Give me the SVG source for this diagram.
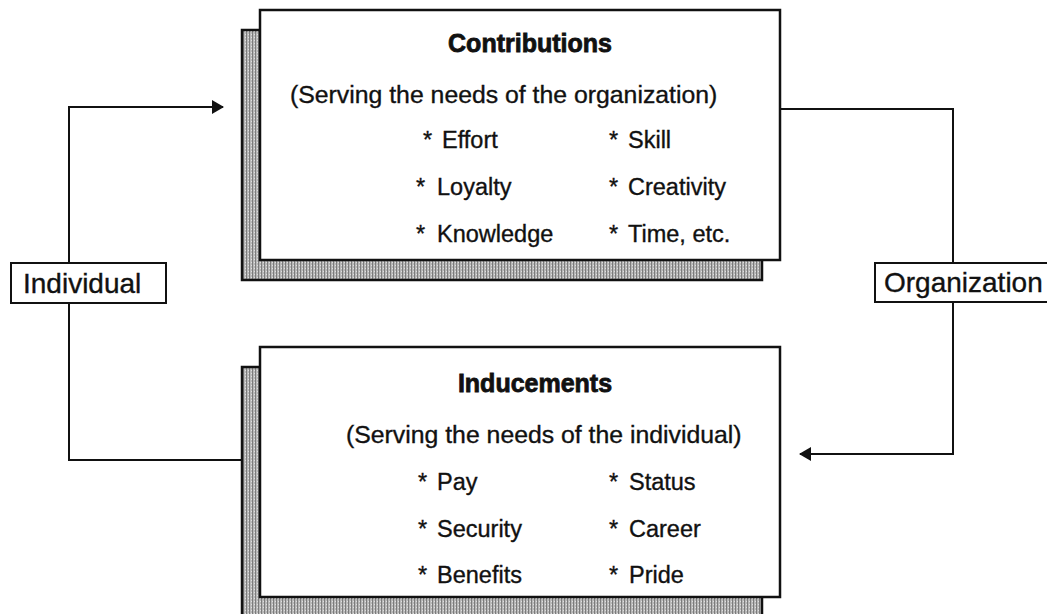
<svg xmlns="http://www.w3.org/2000/svg" width="1047" height="614" viewBox="0 0 1047 614">
  <defs>
    <!-- stippled grey fill for the drop shadows -->
    <pattern id="stipple" width="3" height="3" patternUnits="userSpaceOnUse">
      <rect width="3" height="3" fill="#b8b8b8"/>
      <rect x="0" y="0" width="1" height="3" fill="#7c7c7c"/>
      <rect x="2" y="1" width="1" height="1" fill="#e0e0e0"/>
    </pattern>
    <marker id="arrow" viewBox="0 0 12 14" refX="11" refY="7" markerWidth="12" markerHeight="14" markerUnits="userSpaceOnUse" orient="auto">
      <path d="M0,0 L12,7 L0,14 Z" fill="#111"/>
    </marker>
  </defs>
  <style>
    .shadow { fill: url(#stipple); stroke: #111; stroke-width: 2.5; }
    .card { fill: #fff; stroke: #111; stroke-width: 2.5; }
    .label { fill: #fff; stroke: #111; stroke-width: 2; }
    .title { font-family: "Liberation Sans", Arial, sans-serif; font-weight: bold; font-size: 25px; fill: #111; stroke: #111; stroke-width: 0.8; text-anchor: middle; }
    .sub { font-family: "Liberation Sans", Arial, sans-serif; font-size: 24.8px; fill: #111; stroke: #111; stroke-width: 0.35; }
    .item { font-family: "Liberation Sans", Arial, sans-serif; font-size: 23.5px; fill: #111; stroke: #111; stroke-width: 0.35; }
    .tag { font-family: "Liberation Sans", Arial, sans-serif; font-size: 28px; fill: #111; stroke: #111; stroke-width: 0.35; }
    .wire { fill: none; stroke: #111; stroke-width: 2; }
  </style>

  <rect width="1047" height="614" fill="#fff"/>

  <!-- connectors -->
  <g id="connectors">
    <path class="wire" d="M242,460 H69 V107 H223" marker-end="url(#arrow)"/>
    <path class="wire" d="M780,109 H953 V454 H800" marker-end="url(#arrow)"/>
  </g>

  <!-- contributions box -->
  <g id="contributions">
    <rect class="shadow" x="242" y="30" width="520" height="250"/>
    <rect class="card" x="260" y="10" width="520" height="250"/>
    <text class="title" x="530" y="52">Contributions</text>
    <text class="sub" x="290" y="103">(Serving the needs of the organization)</text>
    <text class="item" x="423" y="148">* <tspan x="442">Effort</tspan></text>
    <text class="item" x="416" y="195">* <tspan x="437">Loyalty</tspan></text>
    <text class="item" x="416" y="242">* <tspan x="437">Knowledge</tspan></text>
    <text class="item" x="609" y="148">* <tspan x="628">Skill</tspan></text>
    <text class="item" x="609" y="195">* <tspan x="628">Creativity</tspan></text>
    <text class="item" x="609" y="242">* <tspan x="628">Time, etc.</tspan></text>
  </g>

  <!-- inducements box -->
  <g id="inducements">
    <rect class="shadow" x="242" y="367" width="520" height="260"/>
    <rect class="card" x="260" y="347" width="520" height="250"/>
    <text class="title" x="535" y="392">Inducements</text>
    <text class="sub" x="346" y="443">(Serving the needs of the individual)</text>
    <text class="item" x="418" y="490">* <tspan x="437">Pay</tspan></text>
    <text class="item" x="418" y="537">* <tspan x="437">Security</tspan></text>
    <text class="item" x="418" y="583">* <tspan x="437">Benefits</tspan></text>
    <text class="item" x="609" y="490">* <tspan x="629">Status</tspan></text>
    <text class="item" x="609" y="537">* <tspan x="629">Career</tspan></text>
    <text class="item" x="609" y="583">* <tspan x="629">Pride</tspan></text>
  </g>

  <!-- side labels -->
  <g id="individual">
    <rect class="label" x="11" y="263" width="155" height="40"/>
    <text class="tag" x="23" y="293">Individual</text>
  </g>
  <g id="organization">
    <rect class="label" x="875" y="263" width="180" height="39"/>
    <text class="tag" x="884" y="292">Organization</text>
  </g>
</svg>
